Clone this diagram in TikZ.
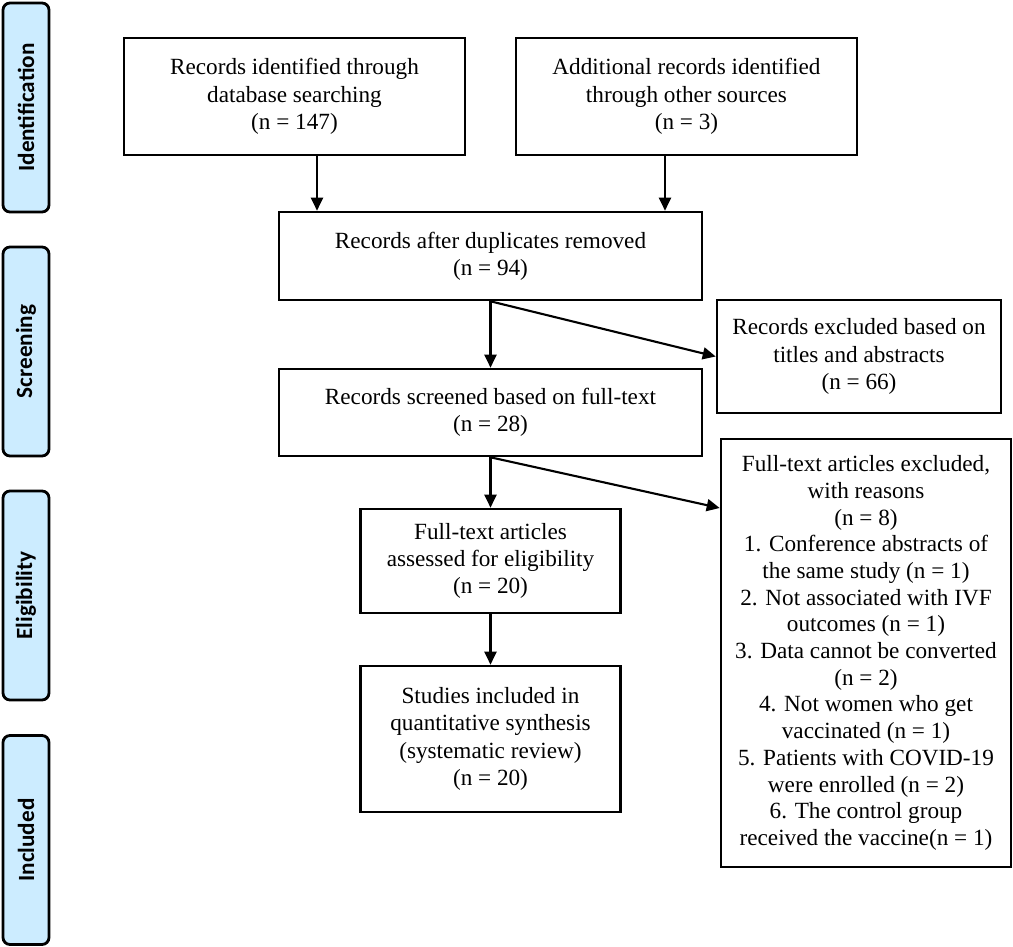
\documentclass[tikz,border=0pt]{standalone}
\usepackage{fontspec}
\setmainfont{Liberation Serif}
\newfontfamily\sidefont{Carlito}
\usetikzlibrary{arrows.meta,calc}
\definecolor{sideblue}{RGB}{204,236,255}
\begin{document}
\begin{tikzpicture}[x=0.5pt,y=-0.5pt,
  box/.style={draw, line width=1.3pt, align=center, inner sep=0pt,
    font=\fontsize{11.6}{13.6}\selectfont},
  side/.style={draw, fill=sideblue, line width=1.4pt, rounded corners=3.5pt,
    rotate=90, minimum width=104.5pt, minimum height=23pt, inner sep=0pt,
    font=\sidefont\bfseries\fontsize{11.6}{13}\selectfont},
  arr/.style={line width=1.05pt, -{Triangle[length=6.5pt,width=6pt]}}]
\useasboundingbox (0,0) rectangle (1013,947);

% side labels
\node[side] (sid) at (26,107.5) {Identification};
\node[side] (sscr) at (26,351.5) {Screening};
\node[side] (selg) at (26,595.5) {Eligibility};
\node[side] (sinc) at (26,840) {Included};

% boxes
\node[box, minimum width=170.5pt, minimum height=58.5pt] (A) at (294.5,96.5)
  {Records identified through\\database searching\\(n = 147)};
\node[box, minimum width=170.5pt, minimum height=58.5pt] (B) at (686.5,96.5)
  {Additional records identified\\through other sources\\(n = 3)};
\node[box, minimum width=211.5pt, minimum height=44pt] (C) at (490.5,256)
  {Records after duplicates removed\\(n = 94)};
\node[box, minimum width=142pt, minimum height=56.5pt] (D) at (859,356.5)
  {Records excluded based on\\titles and abstracts\\(n = 66)};
\node[box, minimum width=211.5pt, minimum height=43.5pt] (E) at (490.5,412.5)
  {Records screened based on full-text\\(n = 28)};
\node[box, minimum width=145pt, minimum height=214pt,
  font=\fontsize{11.6}{13.35}\selectfont] (F) at (866,653)
  {Full-text articles excluded,\\with reasons\\(n = 8)\\1. Conference abstracts of\\the same study (n = 1)\\2. Not associated with IVF\\outcomes (n = 1)\\3. Data cannot be converted\\(n = 2)\\4. Not women who get\\vaccinated (n = 1)\\5. Patients with COVID-19\\were enrolled (n = 2)\\6. The control group\\received the vaccine(n = 1)};
\node[box, minimum width=130pt, minimum height=52pt] (G) at (490.5,561)
  {Full-text articles\\assessed for eligibility\\(n = 20)};
\node[box, minimum width=130pt, minimum height=73pt] (H) at (490.5,739)
  {Studies included in\\quantitative synthesis\\(systematic review)\\(n = 20)};

% helper coordinates
\coordinate (ax) at (317,0);
\coordinate (bx) at (665,0);
\coordinate (fy) at (0,508);

% connectors
\draw[arr] (A.south -| ax) -- (C.north -| ax);
\draw[arr] (B.south -| bx) -- (C.north -| bx);
\draw[arr] (C.south) -- (E.north);
\draw[arr] (C.south) -- (D.west);
\draw[arr] (E.south) -- (G.north);
\draw[arr] (E.south) -- (F.west |- fy);
\draw[arr] (G.south) -- (H.north);
\end{tikzpicture}
\end{document}
